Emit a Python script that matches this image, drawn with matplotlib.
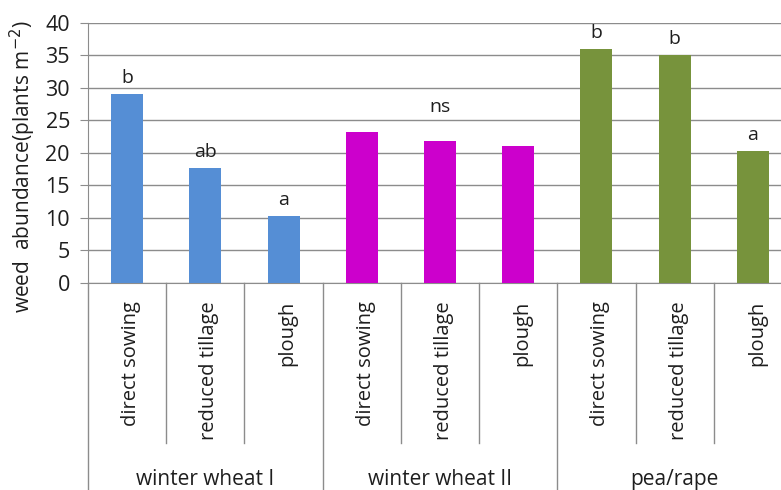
import matplotlib
matplotlib.use("Agg")
import matplotlib.pyplot as plt
from matplotlib.lines import Line2D

plt.rcParams['font.family'] = ['Open Sans', 'DejaVu Sans']

groups = ["winter wheat I", "winter wheat II", "pea/rape"]
treatments = ["direct sowing", "reduced tillage", "plough"]
values = [
    [29.0, 17.7, 10.3],   # winter wheat I
    [23.2, 21.8, 21.0],   # winter wheat II
    [36.0, 35.0, 20.3],   # pea/rape
]
letters = [
    ["b", "ab", "a"],
    ["", "", ""],
    ["b", "b", "a"],
]
group_notes = ["", "ns", ""]
colors = ["#558ED5", "#CC00CC", "#77933C"]
yticks = [0, 5, 10, 15, 20, 25, 30, 35, 40]

W, H = 781, 490
fig = plt.figure(figsize=(W / 100, H / 100), dpi=100)
ax = fig.add_axes([88 / W, 1 - 283 / H, (792 - 88) / W, (283 - 22.7) / H])

grid_col = "#8C8C8C"
txt_col = "#1E1E1E"
n_t = len(treatments)
for gi, g in enumerate(groups):
    xs = [gi * n_t + ti for ti in range(n_t)]
    ax.bar(xs, values[gi], width=0.41, color=colors[gi], zorder=3)
    for ti, x in enumerate(xs):
        if letters[gi][ti]:
            ax.annotate(letters[gi][ti], (x, values[gi][ti]), xytext=(0, 8),
                        textcoords="offset points", ha="center", va="baseline",
                        fontsize=14, color=txt_col)
    if group_notes[gi]:
        mid = xs[len(xs) // 2]
        ax.annotate(group_notes[gi], (mid, values[gi][len(xs) // 2]), xytext=(0, 21),
                    textcoords="offset points", ha="center", va="baseline",
                    fontsize=14, color=txt_col)

ax.set_xlim(-0.5, len(groups) * n_t - 0.5)
ax.set_ylim(0, 40)
ax.set_yticks(yticks)
ax.set_yticklabels([str(t) for t in yticks], fontsize=15.5, color=txt_col)
ax.yaxis.grid(True, color=grid_col, linewidth=1.0, zorder=0)
ax.set_axisbelow(True)
ax.tick_params(axis="y", length=6, color=grid_col, pad=7)
ax.set_xticks([])
for s in ["top", "right"]:
    ax.spines[s].set_visible(False)
ax.spines["left"].set_color(grid_col)
ax.spines["bottom"].set_color(grid_col)

# category labels and dividers
trans = ax.get_xaxis_transform()
n_total = len(groups) * n_t
for i in range(n_total + 1):
    xb = i - 0.5
    is_group = (i % n_t == 0)
    y_end = -0.9 if is_group else -0.615
    ax.add_line(Line2D([xb, xb], [0, y_end], transform=trans, color=grid_col,
                       linewidth=1.0, clip_on=False))
for gi, g in enumerate(groups):
    for ti, t in enumerate(treatments):
        x = gi * n_t + ti
        ax.text(x + 0.05, -0.07, t, transform=trans, rotation=90, ha="center", va="top",
                fontsize=14.5, color=txt_col)
    ax.text(gi * n_t + (n_t - 1) / 2, -0.755, g, transform=trans, ha="center", va="center",
            fontsize=15, color=txt_col)

fig.text(23 / W, 1 - 167 / H, "weed  abundance(plants m$^{-2}$)", rotation=90,
         ha="center", va="center", fontsize=15, color=txt_col)

fig.savefig("out.png", dpi=100)
